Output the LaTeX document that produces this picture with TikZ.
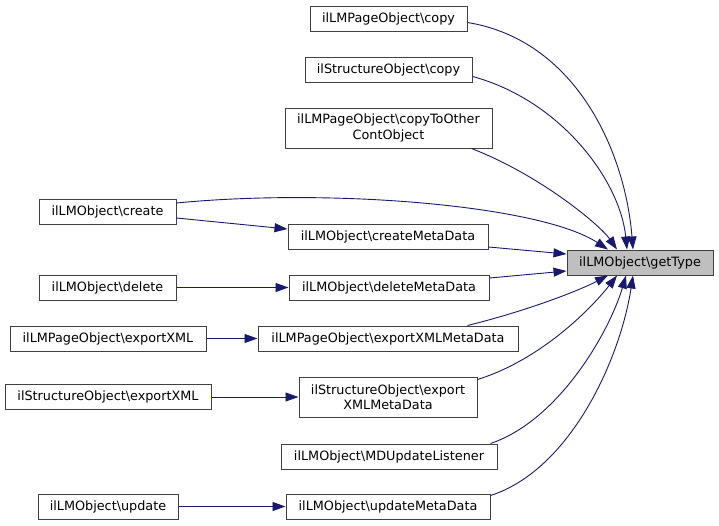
\documentclass[tikz,border=0pt]{standalone}
\usepackage{fontspec}
\setmainfont{DejaVu Sans}
\usepackage{xcolor}
\usetikzlibrary{calc,arrows.meta}
\definecolor{bg}{HTML}{FFFFFF}
\definecolor{frame}{HTML}{404040}
\definecolor{focusbg}{HTML}{BFBFBF}
\definecolor{link}{HTML}{191970}
\tikzset{
  box/.style={draw=frame, fill=bg, line width=1pt, inner sep=0pt, align=center,
    font=\fontsize{12.8}{15.5}\selectfont, minimum height=25pt},
  focus/.style={box, fill=focusbg},
  edge/.style={draw=link, line width=0.9pt, -{Triangle[length=13pt,width=9pt]}},
}

\begin{document}
\begin{tikzpicture}[x=1pt,y=-1pt]
  \useasboundingbox[fill=bg] (0,0) rectangle (719,525);

  \node[focus, minimum width=146pt] (gettype) at (640,262.5) {ilLMObject\textbackslash getType};

  % callers, middle column
  \node[box, minimum width=157pt] (pcopy) at (388.5,18.5) {ilLMPageObject\textbackslash copy};
  \node[box, minimum width=167pt] (scopy) at (388.5,69.5) {ilStructureObject\textbackslash copy};
  \node[box, minimum width=207pt, minimum height=40pt] (pcopyother) at (388.5,128) {ilLMPageObject\textbackslash copyToOther\\ContObject};
  \node[box, minimum width=200pt] (cmeta) at (388,236.5) {ilLMObject\textbackslash createMetaData};
  \node[box, minimum width=200pt] (dmeta) at (389,287.5) {ilLMObject\textbackslash deleteMetaData};
  \node[box, minimum width=260pt] (pexmeta) at (388,338.5) {ilLMPageObject\textbackslash exportXMLMetaData};
  \node[box, minimum width=178pt, minimum height=40pt] (sexmeta) at (388,397) {ilStructureObject\textbackslash export\\XMLMetaData};
  \node[box, minimum width=216pt] (mdlisten) at (389,456.5) {ilLMObject\textbackslash MDUpdateListener};
  \node[box, minimum width=204pt] (umeta) at (388,506.5) {ilLMObject\textbackslash updateMetaData};

  % callers, left column
  \node[box, minimum width=137pt] (create) at (107.5,211.5) {ilLMObject\textbackslash create};
  \node[box, minimum width=137pt] (delete) at (107.5,287.5) {ilLMObject\textbackslash delete};
  \node[box, minimum width=196pt] (pexport) at (108,338.5) {ilLMPageObject\textbackslash exportXML};
  \node[box, minimum width=206pt] (sexport) at (108,397) {ilStructureObject\textbackslash exportXML};
  \node[box, minimum width=140pt] (update) at (108,506.5) {ilLMObject\textbackslash update};

  \draw[edge] ($(pcopy.east)+(0,4)$) .. controls (575,40) and (625,150) .. ($(gettype.north)+(-7,0)$);
  \draw[edge] ($(scopy.east)+(0,7)$) .. controls (560,100) and (620,180) .. ($(gettype.north)+(-13,0)$);
  \draw[edge] ($(pcopyother.south east)+(-21,0)$) .. controls (540,175) and (600,225) .. ($(gettype.north)+(-23,0)$);
  \draw[edge] ($(create.east)+(0,-8.5)$) .. controls (330,188) and (540,205) .. ($(gettype.north)+(-32,0)$);
  \draw[edge] ($(cmeta.east)+(0,10.5)$) -- ($(gettype.west)+(0,-8.5)$);
  \draw[edge] ($(dmeta.east)+(0,-9.5)$) -- ($(gettype.west)+(0,8.5)$);
  \draw[edge] ($(pexmeta.north east)+(-51,0)$) .. controls (530,310) and (580,290) .. ($(gettype.south)+(-32,0)$);
  \draw[edge] ($(sexmeta.north east)+(0,3)$) .. controls (540,360) and (590,310) .. ($(gettype.south)+(-23,0)$);
  \draw[edge] ($(mdlisten.north east)+(-7,0)$) .. controls (560,420) and (610,330) .. ($(gettype.south)+(-14,0)$);
  \draw[edge] ($(umeta.north east)+(0,2)$) .. controls (570,470) and (620,360) .. ($(gettype.south)+(-7,0)$);

  \draw[edge] ($(create.east)+(0,6.5)$) -- ($(cmeta.west)+(0,-7.5)$);
  \draw[edge] (delete) -- (dmeta);
  \draw[edge] (pexport) -- (pexmeta);
  \draw[edge] (sexport) -- (sexmeta);
  \draw[edge] (update) -- (umeta);
\end{tikzpicture}
\end{document}
